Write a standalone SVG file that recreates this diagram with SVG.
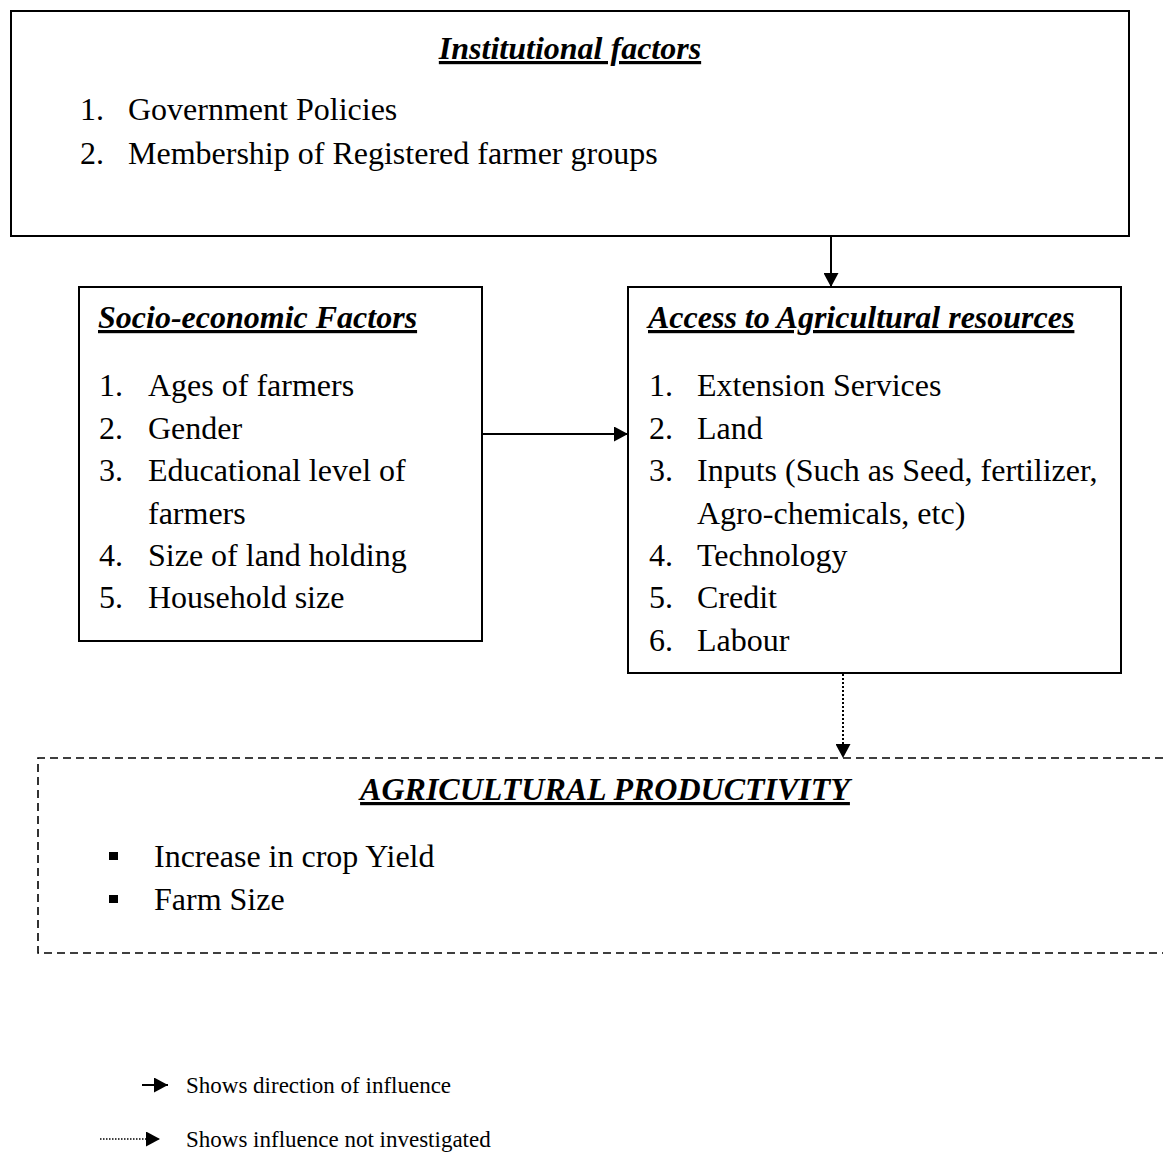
<svg xmlns="http://www.w3.org/2000/svg" width="1163" height="1160" viewBox="0 0 1163 1160">
<style>
text{font-family:"Liberation Serif","Times New Roman",serif;fill:#000}
.it{font-size:32px}
.tt{font-size:32px;font-weight:bold;font-style:italic;text-decoration:underline}
.lg{font-size:23px}
.box{fill:#fff;stroke:#000;stroke-width:2}
.con{stroke:#000;stroke-width:2;fill:none}
</style>
<defs>
<marker id="ah" markerUnits="userSpaceOnUse" markerWidth="15" markerHeight="15" refX="14" refY="7.5" orient="auto" viewBox="0 0 15 15">
<path d="M0,0 L14,7.5 L0,15 z" fill="#000"/>
</marker>
</defs>
<rect width="1163" height="1160" fill="#fff"/>
<g id="institutional">
<rect class="box" x="11" y="11" width="1118" height="225"/>
<text class="tt" x="570" y="59" text-anchor="middle">Institutional factors</text>
<text class="it" x="80" y="120">1.</text><text class="it" x="128" y="120">Government Policies</text>
<text class="it" x="80" y="164">2.</text><text class="it" x="128" y="164">Membership of Registered farmer groups</text>
</g>
<g id="socio">
<rect class="box" x="79" y="287" width="403" height="354"/>
<text class="tt" x="98" y="328">Socio-economic Factors</text>
<text class="it" x="99" y="396">1.</text><text class="it" x="148" y="396">Ages of farmers</text>
<text class="it" x="99" y="439">2.</text><text class="it" x="148" y="439">Gender</text>
<text class="it" x="99" y="481">3.</text><text class="it" x="148" y="481">Educational level of</text>
<text class="it" x="148" y="524">farmers</text>
<text class="it" x="99" y="566">4.</text><text class="it" x="148" y="566">Size of land holding</text>
<text class="it" x="99" y="608">5.</text><text class="it" x="148" y="608">Household size</text>
</g>
<g id="access">
<rect class="box" x="628" y="287" width="493" height="386"/>
<text class="tt" x="648" y="328">Access to Agricultural resources</text>
<text class="it" x="649" y="396">1.</text><text class="it" x="697" y="396">Extension Services</text>
<text class="it" x="649" y="439">2.</text><text class="it" x="697" y="439">Land</text>
<text class="it" x="649" y="481">3.</text><text class="it" x="697" y="481">Inputs (Such as Seed, fertilizer,</text>
<text class="it" x="697" y="524">Agro-chemicals, etc)</text>
<text class="it" x="649" y="566">4.</text><text class="it" x="697" y="566">Technology</text>
<text class="it" x="649" y="608">5.</text><text class="it" x="697" y="608">Credit</text>
<text class="it" x="649" y="651">6.</text><text class="it" x="697" y="651">Labour</text>
</g>
<g id="productivity">
<path d="M1163,758 H38 V953 H1163" fill="none" stroke="#000" stroke-width="1.6" stroke-dasharray="8,5"/>
<text class="tt" x="605" y="800" text-anchor="middle">AGRICULTURAL PRODUCTIVITY</text>
<rect x="109" y="852" width="9" height="8" fill="#000"/>
<text class="it" x="154" y="867">Increase in crop Yield</text>
<rect x="109" y="895" width="9" height="8" fill="#000"/>
<text class="it" x="154" y="910">Farm Size</text>
</g>
<g id="connectors">
<line class="con" x1="831" y1="236" x2="831" y2="287" marker-end="url(#ah)"/>
<line class="con" x1="482" y1="434" x2="628" y2="434" marker-end="url(#ah)"/>
<line class="con" x1="843" y1="674" x2="843" y2="758" stroke-dasharray="2,2" marker-end="url(#ah)"/>
</g>
<g id="legend">
<line class="con" x1="142" y1="1085" x2="168" y2="1085" marker-end="url(#ah)"/>
<text class="lg" x="186" y="1093">Shows direction of influence</text>
<line x1="100" y1="1139" x2="160" y2="1139" stroke="#000" stroke-width="1.5" stroke-dasharray="1.5,1.5" marker-end="url(#ah)"/>
<text class="lg" x="186" y="1147">Shows influence not investigated</text>
</g>
</svg>
